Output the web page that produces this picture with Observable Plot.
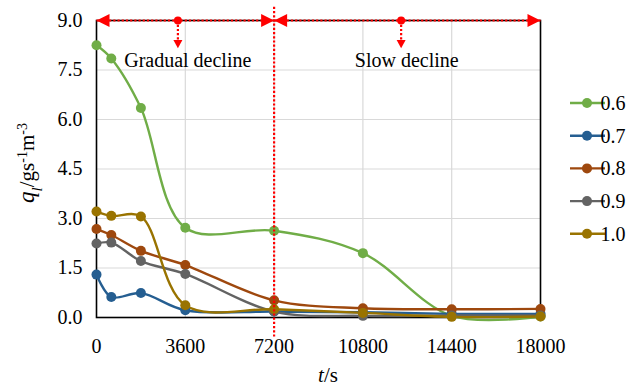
<!DOCTYPE html>
<html>
<head>
<meta charset="utf-8">
<script src="https://cdn.jsdelivr.net/npm/d3@7"></script>
<script src="https://cdn.jsdelivr.net/npm/@observablehq/plot@0.6"></script>
<style>
  html, body { margin: 0; padding: 0; background: #fff; }
  #chart { width: 642px; height: 386px; }
  #chart svg text { font-family: "Liberation Serif", "Times New Roman", serif !important; }
</style>
</head>
<body>
<div id="chart"></div>
<script>
// ---- data ----
const times = [0, 600, 1800, 3600, 7200, 10800, 14400, 18000];
const seriesNames = ["0.6", "0.7", "0.8", "0.9", "1.0"];
const q06 = [8.25, 7.85, 6.35, 2.72, 2.63, 1.95, 0.05, 0.03];
const q07 = [1.30, 0.62, 0.74, 0.22, 0.18, 0.16, 0.11, 0.11];
const q08 = [2.68, 2.50, 2.02, 1.59, 0.52, 0.28, 0.25, 0.26];
const q09 = [2.24, 2.27, 1.71, 1.32, 0.18, 0.05, 0.06, 0.06];
const q10 = [3.21, 3.08, 3.06, 0.37, 0.25, 0.14, 0.02, 0.03];
const colors = ["#70AD47", "#255E91", "#9E480E", "#636363", "#997300"];
const xTicks = [0, 3600, 7200, 10800, 14400, 18000];
const yTicks = [0, 1.5, 3.0, 4.5, 6.0, 7.5, 9.0];
// phase annotations
const phaseLabels = ["Gradual decline", "Slow decline"];
const phaseStart = [0, 7200];
const phaseEnd = [7200, 18000];
const phaseMarker = [3300, 12350];
const phaseTextX = [3700, 12580];
const topY = 9.0;
const markerTipY = 8.16;
const labelY = 7.79;
const boundaryT = 7200;

// ---- build table ----
const values = [q06, q07, q08, q09, q10];
const rows = [];
seriesNames.forEach((s, i) => times.forEach((t, j) => rows.push({series: s, t, q: values[i][j]})));

const phases = phaseLabels.map((label, i) => ({label, x1: phaseStart[i], x2: phaseEnd[i], m: phaseMarker[i], tx: phaseTextX[i]}));

// custom filled arrowhead symbols (tip at origin)
const headRight = {draw(ctx, size) { const r = Math.sqrt(size / Math.PI); ctx.moveTo(0, 0); ctx.lineTo(-2 * r, -r); ctx.lineTo(-2 * r, r); ctx.closePath(); }};
const headLeft = {draw(ctx, size) { const r = Math.sqrt(size / Math.PI); ctx.moveTo(0, 0); ctx.lineTo(2 * r, -r); ctx.lineTo(2 * r, r); ctx.closePath(); }};
const headDown = {draw(ctx, size) { const r = Math.sqrt(size / Math.PI); ctx.moveTo(0, 0); ctx.lineTo(-r, -1.8 * r); ctx.lineTo(r, -1.8 * r); ctx.closePath(); }};

const RED = "#ff0000";
const dash = "2.2,2";
const FONT = "Liberation Serif";

const chart = Plot.plot({
  width: 642,
  height: 386,
  marginLeft: 96,
  marginRight: 102,
  marginTop: 20,
  marginBottom: 69,
  style: {fontFamily: FONT, fontSize: "20px", color: "#000", background: "#fff"},
  x: {domain: [0, 18000]},
  y: {domain: [0, 9]},
  color: {domain: seriesNames, range: colors},
  marks: [
    Plot.gridY(yTicks.filter(d => d > 0 && d < 9), {stroke: "#d9d9d9", strokeOpacity: 1, strokeWidth: 1.2}),
    Plot.gridX(xTicks.filter(d => d > 0 && d < 18000), {stroke: "#d9d9d9", strokeOpacity: 1, strokeWidth: 1.2}),
    Plot.axisY({ticks: yTicks, tickFormat: d3.format(".1f"), tickSize: 0, tickPadding: 14, label: null, fontFamily: FONT, fontSize: 20, fontVariant: "normal"}),
    Plot.axisX({ticks: xTicks, tickFormat: d => String(d), tickSize: 0, tickPadding: 21, label: null, fontFamily: FONT, fontSize: 20, fontVariant: "normal"}),
    Plot.frame({stroke: "#000", strokeWidth: 1.6}),
    Plot.line(rows, {x: "t", y: "q", z: "series", stroke: "series", strokeWidth: 2.4, curve: "catmull-rom"}),
    Plot.dot(rows, {x: "t", y: "q", fill: "series", r: 5}),
    // vertical boundary
    Plot.ruleX([boundaryT], {y1: 9.4, y2: -0.62, stroke: RED, strokeWidth: 2.2, strokeDasharray: dash}),
    // horizontal double arrows
    Plot.link(phases, {x1: "x1", x2: "x2", y1: topY, y2: topY, stroke: RED, strokeWidth: 2.2, strokeDasharray: dash}),
    Plot.dot(phases, {x: "x1", y: topY, symbol: headLeft, r: 6.5, fill: RED, stroke: "none"}),
    Plot.dot(phases, {x: "x2", y: topY, symbol: headRight, r: 6.5, fill: RED, stroke: "none"}),
    // marker dots and down arrows
    Plot.link(phases, {x1: "m", x2: "m", y1: topY, y2: markerTipY + 0.2, stroke: RED, strokeWidth: 2.2, strokeDasharray: dash}),
    Plot.dot(phases, {x: "m", y: topY, r: 4, fill: RED}),
    Plot.dot(phases, {x: "m", y: markerTipY, symbol: headDown, r: 4.5, fill: RED, stroke: "none"}),
    Plot.text(phases, {x: "tx", y: labelY, text: "label", fill: "#000", fontSize: 20, fontFamily: FONT})
  ]
});

document.getElementById("chart").appendChild(chart);

// ---- legend and axis titles (rich text) ----
const svg = d3.select(chart);
const lg = svg.append("g").attr("font-family", FONT).attr("font-size", 20);
seriesNames.forEach((s, i) => {
  const y = 103 + i * 32.7;
  lg.append("line").attr("x1", 570).attr("x2", 605).attr("y1", y).attr("y2", y)
    .attr("stroke", colors[i]).attr("stroke-width", 2.4);
  lg.append("circle").attr("cx", 587).attr("cy", y).attr("r", 5).attr("fill", colors[i]);
  lg.append("text").attr("x", 613).attr("y", y).attr("dy", "0.35em").attr("fill", "#000").attr("font-family", FONT).text(s);
});

const yl = svg.append("text")
  .attr("transform", "translate(34,163) rotate(-90)")
  .attr("text-anchor", "middle")
  .attr("font-family", FONT).attr("font-size", 21).attr("fill", "#000");
yl.append("tspan").attr("font-style", "italic").attr("font-size", 23).text("q");
yl.append("tspan").attr("font-style", "italic").attr("font-size", 15).attr("baseline-shift", "sub").text("l");
yl.append("tspan").text("/gs");
yl.append("tspan").attr("font-size", 14).attr("baseline-shift", "super").text("-1");
yl.append("tspan").text("m");
yl.append("tspan").attr("font-size", 14).attr("baseline-shift", "super").text("-3");

const xl = svg.append("text")
  .attr("x", 328).attr("y", 382)
  .attr("text-anchor", "middle")
  .attr("font-family", FONT).attr("font-size", 21).attr("fill", "#000");
xl.append("tspan").attr("font-style", "italic").text("t");
xl.append("tspan").text("/s");
</script>
</body>
</html>
